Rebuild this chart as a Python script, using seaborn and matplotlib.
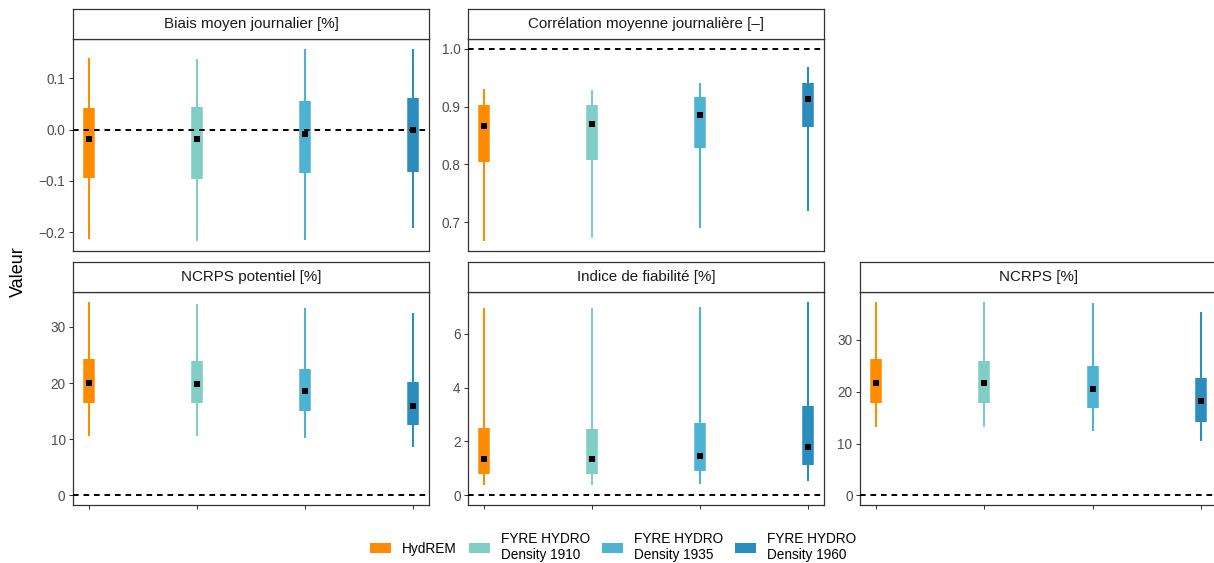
import numpy as np
import pandas as pd
import matplotlib
matplotlib.use("Agg")
import matplotlib.pyplot as plt
from matplotlib.patches import Patch
import seaborn as sns

# ---------------- data ----------------
models = ["HydREM", "FYRE HYDRO\nDensity 1910", "FYRE HYDRO\nDensity 1935", "FYRE HYDRO\nDensity 1960"]
colors = ["#FF8C00", "#7FCDC4", "#4EB3D3", "#2B8CBE"]

metrics = ["Biais moyen journalier [%]", "Corrélation moyenne journalière [–]",
           "NCRPS potentiel [%]", "Indice de fiabilité [%]", "NCRPS [%]"]
ref_lines = [0.0, 1.0, 0.0, 0.0, 0.0]

biais_lo = [-0.214, -0.218, -0.216, -0.192]
biais_q1 = [-0.095, -0.097, -0.085, -0.082]
biais_med = [-0.019, -0.019, -0.008, 0.000]
biais_q3 = [0.043, 0.045, 0.056, 0.061]
biais_hi = [0.140, 0.138, 0.157, 0.158]

corr_lo = [0.667, 0.673, 0.690, 0.720]
corr_q1 = [0.804, 0.808, 0.828, 0.865]
corr_med = [0.867, 0.869, 0.886, 0.913]
corr_q3 = [0.902, 0.903, 0.916, 0.941]
corr_hi = [0.930, 0.929, 0.940, 0.969]

ncrpsp_lo = [10.5, 10.5, 10.2, 8.6]
ncrpsp_q1 = [16.4, 16.4, 15.05, 12.5]
ncrpsp_med = [20.0, 19.8, 18.6, 15.9]
ncrpsp_q3 = [24.2, 23.9, 22.5, 20.2]
ncrpsp_hi = [34.5, 34.1, 33.3, 32.4]

fiab_lo = [0.38, 0.38, 0.43, 0.53]
fiab_q1 = [0.80, 0.79, 0.89, 1.14]
fiab_med = [1.34, 1.34, 1.45, 1.78]
fiab_q3 = [2.49, 2.45, 2.68, 3.32]
fiab_hi = [6.95, 6.97, 7.00, 7.19]

ncrps_lo = [13.2, 13.1, 12.4, 10.5]
ncrps_q1 = [17.9, 17.85, 16.8, 14.25]
ncrps_med = [21.7, 21.7, 20.5, 18.2]
ncrps_q3 = [26.4, 25.9, 24.9, 22.6]
ncrps_hi = [37.4, 37.4, 37.1, 35.5]

yticks_list = [[-0.2, -0.1, 0.0, 0.1], [0.7, 0.8, 0.9, 1.0], [0, 10, 20, 30], [0, 2, 4, 6], [0, 10, 20, 30]]
ytick_fmt = ["{:.1f}", "{:.1f}", "{:.0f}", "{:.0f}", "{:.0f}"]

stats = [
    (biais_lo, biais_q1, biais_med, biais_q3, biais_hi),
    (corr_lo, corr_q1, corr_med, corr_q3, corr_hi),
    (ncrpsp_lo, ncrpsp_q1, ncrpsp_med, ncrpsp_q3, ncrpsp_hi),
    (fiab_lo, fiab_q1, fiab_med, fiab_q3, fiab_hi),
    (ncrps_lo, ncrps_q1, ncrps_med, ncrps_q3, ncrps_hi),
]

# ---------------- style ----------------
sns.set_theme(style="ticks")
plt.rcParams["font.family"] = ["Liberation Sans", "DejaVu Sans"]
plt.rcParams["axes.unicode_minus"] = True

W, H = 1214, 563
fig = plt.figure(figsize=(W / 100, H / 100), dpi=100)

def px_axes(x0, y0, x1, y1):
    return fig.add_axes([x0 / W, (H - y1) / H, (x1 - x0) / W, (y1 - y0) / H])

cols_px = [(73, 429), (468, 824), (860, 1217)]
rows_px = [((9, 39), (39, 251)), ((262, 292), (292, 505))]
positions = [(0, 0), (0, 1), (1, 0), (1, 1), (1, 2)]

palette = dict(zip(models, colors))
edge = "#333333"

for k, (r, c) in enumerate(positions):
    (sy0, sy1), (py0, py1) = rows_px[r]
    x0, x1 = cols_px[c]
    ax = px_axes(x0, py0, x1, py1)
    lo, q1, med, q3, hi = stats[k]
    pos = list(range(len(models)))

    whisk = pd.DataFrame({"model": models * 2, "pos": pos * 2, "value": lo + hi})
    box = pd.DataFrame({"model": models * 2, "pos": pos * 2, "value": q1 + q3})
    mid = pd.DataFrame({"model": models, "pos": pos, "value": med})

    sns.lineplot(data=whisk, x="pos", y="value", hue="model", units="model", estimator=None,
                 palette=palette, linewidth=1.5, legend=False, sort=False, ax=ax,
                 solid_capstyle="butt", zorder=2)
    sns.lineplot(data=box, x="pos", y="value", hue="model", units="model", estimator=None,
                 palette=palette, linewidth=8.3, legend=False, sort=False, ax=ax,
                 solid_capstyle="butt", zorder=3)
    ax.axhline(ref_lines[k], color="black", linewidth=1.4, dashes=(2.9, 2.5), zorder=4)
    sns.scatterplot(data=mid, x="pos", y="value", color="black", marker="s", s=13,
                    linewidth=0, ax=ax, zorder=5)

    allv = lo + hi + [ref_lines[k]]
    vmin, vmax = min(allv), max(allv)
    rng = vmax - vmin
    ax.set_ylim(vmin - 0.05 * rng, vmax + 0.05 * rng)
    ax.set_xlim(-0.15, 3.15)
    ax.set_yticks(yticks_list[k])
    ax.set_yticklabels([ytick_fmt[k].format(v).replace("-", "\u2212") for v in yticks_list[k]])
    ax.set_xlabel("")
    ax.set_ylabel("")
    ax.set_facecolor("white")
    for sp in ax.spines.values():
        sp.set_visible(True)
        sp.set_color(edge)
        sp.set_linewidth(0.9)
    ax.tick_params(axis="y", length=3.1, width=0.75, color=edge, labelcolor="#4D4D4D",
                   labelsize=9.8, pad=2.3)
    if r == 1:
        ax.set_xticks(pos)
        ax.set_xticklabels([])
        ax.tick_params(axis="x", length=3.1, width=0.75, color=edge)
    else:
        ax.set_xticks([])

    sax = px_axes(x0, sy0, x1, sy1)
    sax.set_xticks([])
    sax.set_yticks([])
    sax.set_facecolor("white")
    for sp in sax.spines.values():
        sp.set_visible(True)
        sp.set_color(edge)
        sp.set_linewidth(0.9)
    sax.text(0.5, 0.5, metrics[k], ha="center", va="center", fontsize=10.9,
             color="#1A1A1A", transform=sax.transAxes)

fig.text(18 / W, (H - 271.5) / H, "Valeur", rotation=90, ha="center", va="center",
         fontsize=13, color="black")

handles = [Patch(facecolor=col, edgecolor="none") for col in colors]
fig.legend(handles, models, loc="center", bbox_to_anchor=(613 / W, (H - 547) / H),
           ncol=4, frameon=False, fontsize=9.8, handlelength=1.55, handleheight=0.8,
           handletextpad=0.8, columnspacing=0.9, labelcolor="black")

fig.savefig("out.png", dpi=100, facecolor="white")
